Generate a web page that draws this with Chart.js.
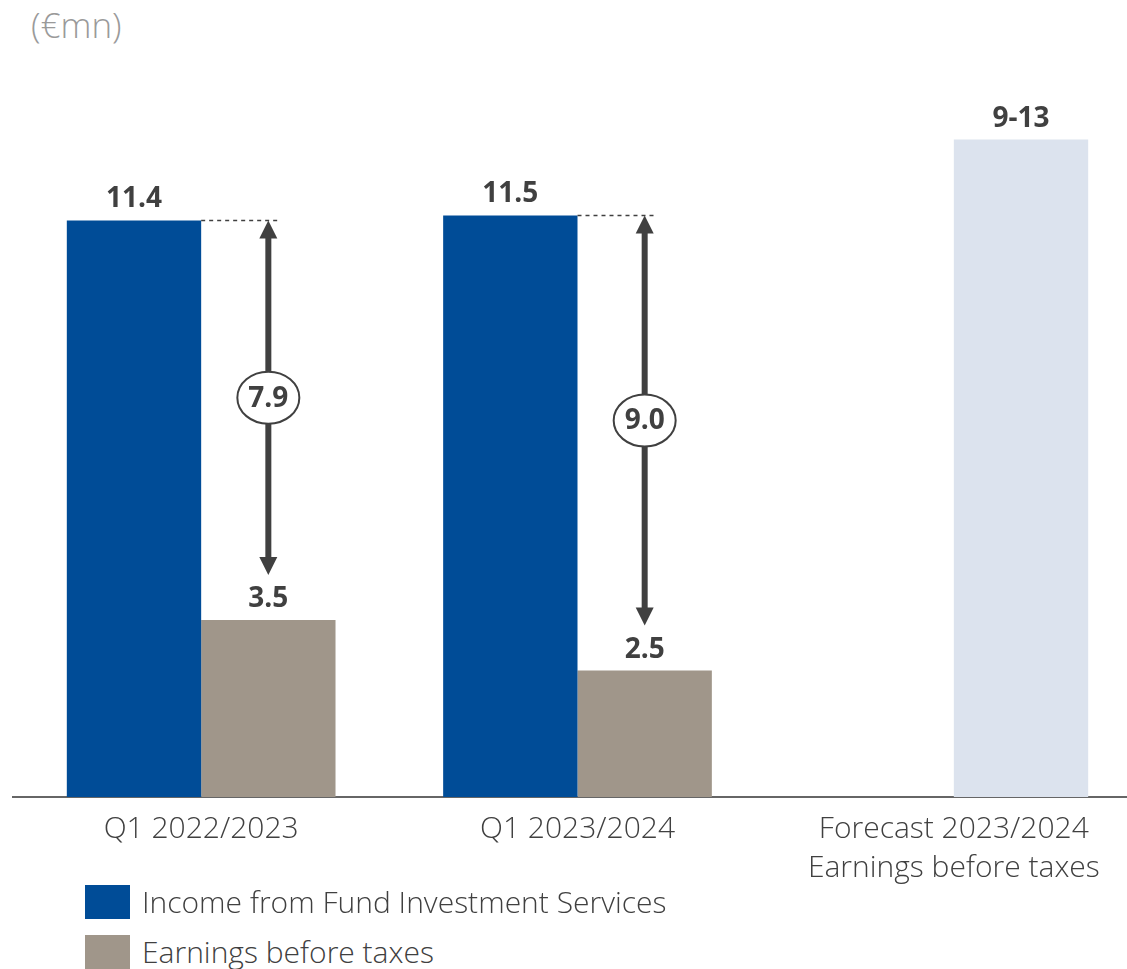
<!DOCTYPE html>
<html>
<head>
<meta charset="utf-8">
<script src="https://cdn.jsdelivr.net/npm/chart.js@4"></script>
<style>
  body { margin: 0; overflow: hidden; background: #fff; width: 1127px; height: 969px; position: relative; font-family: 'Open Sans', sans-serif; }
  #unit { position: absolute; left: 31px; top: 1px; font-size: 35px; font-weight: 300; color: #9a9a9a; }
  #chartWrap { position: absolute; left: 0; top: 0; }
  .legend { position: absolute; left: 85px; font-size: 30px; font-weight: 300; color: #404040; white-space: nowrap; }
  .legend span.box { position: absolute; left: 0; top: 0; width: 45px; height: 34px; }
  .legend span.txt { position: absolute; left: 57px; top: -4px; }
</style>
</head>
<body>
<div id="unit">(€mn)</div>
<div id="chartWrap"><canvas id="chart" width="1145" height="887"></canvas></div>
<div class="legend" style="top:885px"><span class="box" style="background:#004c97"></span><span class="txt">Income from Fund Investment Services</span></div>
<div class="legend" style="top:935px"><span class="box" style="background:#a0968a"></span><span class="txt">Earnings before taxes</span></div>
<script>
// ── data ──
const categories = [['Q1 2022/2023'], ['Q1 2023/2024'], ['Forecast 2023/2024', 'Earnings before taxes']];
const incomeFIS = [11.4, 11.5, null];
const earningsBT = [3.5, 2.5, 13];
const incomeLabels = ['11.4', '11.5', ''];
const earningsLabels = ['3.5', '2.5', '9-13'];
const gapLabels = ['7.9', '9.0'];

const BLUE = '#004c97';
const GREY = '#a0968a';
const LIGHT = '#dce3ee';
const DARK = '#404040';

// value labels, arrows and the circled differences
const annotate = {
    id: 'annotate',
    afterDatasetsDraw(chart) {
        const ctx = chart.ctx;
        const blue = chart.getDatasetMeta(0).data;
        const grey = chart.getDatasetMeta(1).data;

        ctx.save();
        ctx.fillStyle = DARK;
        ctx.textAlign = 'center';
        ctx.textBaseline = 'alphabetic';
        ctx.font = 'bold 28px "Open Sans"';
        blue.forEach((bar, i) => {
            if (incomeLabels[i]) ctx.fillText(incomeLabels[i], bar.x, bar.y - 13);
        });
        grey.forEach((bar, i) => {
            ctx.fillText(earningsLabels[i], bar.x, bar.y - 13);
        });

        gapLabels.forEach((txt, i) => {
            const b = blue[i], g = grey[i];
            const ax = g.x;
            const top = b.y;
            const bottom = g.y - 45;

            // dashed guide from the blue bar top
            ctx.strokeStyle = DARK;
            ctx.lineWidth = 1.5;
            ctx.setLineDash([4, 4]);
            ctx.beginPath();
            ctx.moveTo(b.x + b.width / 2, top);
            ctx.lineTo(ax + 9, top);
            ctx.stroke();
            ctx.setLineDash([]);

            // shaft
            ctx.lineWidth = 6;
            ctx.beginPath();
            ctx.moveTo(ax, top + 16);
            ctx.lineTo(ax, bottom - 16);
            ctx.stroke();

            // heads
            ctx.beginPath();
            ctx.moveTo(ax, top);
            ctx.lineTo(ax - 9, top + 18);
            ctx.lineTo(ax + 9, top + 18);
            ctx.closePath();
            ctx.fill();
            ctx.beginPath();
            ctx.moveTo(ax, bottom);
            ctx.lineTo(ax - 9, bottom - 18);
            ctx.lineTo(ax + 9, bottom - 18);
            ctx.closePath();
            ctx.fill();

            // circled value
            const cy = (top + bottom) / 2;
            ctx.beginPath();
            ctx.ellipse(ax, cy, 31, 26, 0, 0, Math.PI * 2);
            ctx.fillStyle = '#fff';
            ctx.fill();
            ctx.lineWidth = 2;
            ctx.stroke();
            ctx.fillStyle = DARK;
            ctx.textBaseline = 'middle';
            ctx.fillText(txt, ax, cy + 1);
            ctx.textBaseline = 'alphabetic';
        });
        ctx.restore();
    }
};

new Chart(document.getElementById('chart'), {
    type: 'bar',
    data: {
        labels: categories,
        datasets: [
            {
                label: 'Income from Fund Investment Services',
                data: incomeFIS,
                backgroundColor: BLUE,
                barPercentage: 1,
                categoryPercentage: 0.714
            },
            {
                label: 'Earnings before taxes',
                data: earningsBT,
                backgroundColor: [GREY, GREY, LIGHT],
                barPercentage: 1,
                categoryPercentage: 0.714
            }
        ]
    },
    options: {
        responsive: false,
        animation: false,
        layout: { padding: { top: 89, left: 13, right: 3, bottom: 0 } },
        plugins: {
            legend: { display: false },
            tooltip: { enabled: false }
        },
        scales: {
            x: {
                grid: { display: false, drawTicks: false },
                border: { display: true, color: '#666666', width: 2 },
                ticks: {
                    color: DARK,
                    padding: 13,
                    font: { family: 'Open Sans', size: 30, weight: '300', lineHeight: 1.3 }
                },
                afterFit(axis) { axis.height = 90; }
            },
            y: {
                display: false,
                min: 0,
                max: 14
            }
        }
    },
    plugins: [annotate]
});
</script>
</body>
</html>
